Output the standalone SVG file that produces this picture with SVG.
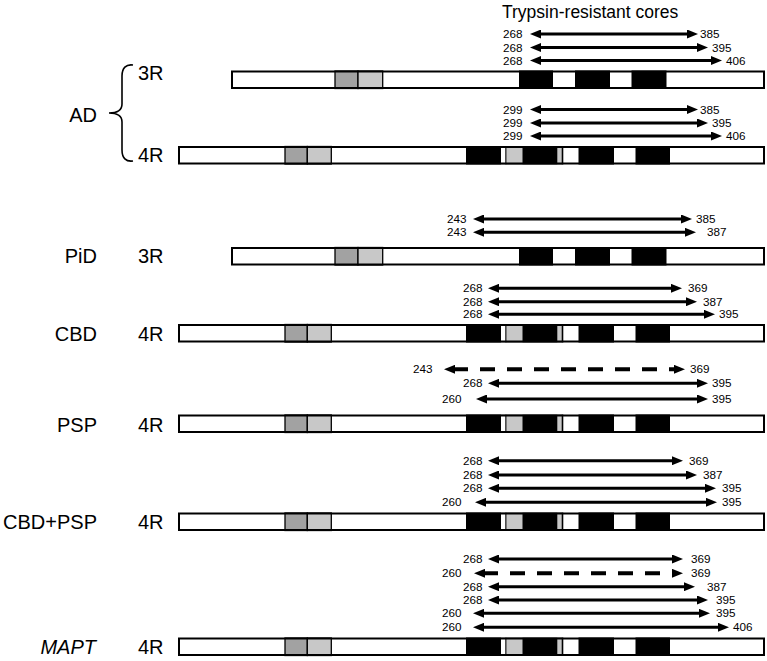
<svg xmlns="http://www.w3.org/2000/svg" width="767" height="661" viewBox="0 0 767 661">
<style>
text{font-family:"Liberation Sans",Arial,sans-serif;fill:#000}
.lab{font-size:20px}
.end{text-anchor:end}
.num{font-size:11.7px}
.ttl{font-size:17.5px}
.bar{fill:none;stroke:#000;stroke-width:2}
.bk{fill:#000}
.wt{fill:#fff}
.dg{fill:#a2a2a2;stroke:#000;stroke-width:1.3}
.lg{fill:#c8c8c8}
.lgs{fill:#c8c8c8;stroke:#000;stroke-width:1.3}
.arr{stroke:#000;stroke-width:2.9;fill:none;marker-start:url(#ah);marker-end:url(#ah)}
.dash{stroke-width:4;stroke-dasharray:15 12}
.brace{fill:none;stroke:#000;stroke-width:1.6}
</style>
<defs>
<marker id="ah" viewBox="0 0 11 9" refX="2" refY="4.5" markerWidth="11" markerHeight="9" markerUnits="userSpaceOnUse" orient="auto-start-reverse">
<path d="M0,0 L11,4.5 L0,9 z" fill="#000"/>
</marker>
<g id="b4">
<rect class="wt" x="179" y="1" width="585" height="16.5"/>
<rect class="dg" x="285" y="0.5" width="22.3" height="17.5"/>
<rect class="lgs" x="307.3" y="0.5" width="24" height="17.5"/>
<rect class="bk" x="466" y="0" width="97.3" height="18.5"/>
<rect class="wt" x="501" y="0" width="4.3" height="18.5"/>
<rect class="lg" x="506.4" y="0" width="16.1" height="18.5"/>
<rect class="lg" x="557.3" y="0" width="4.4" height="18.5"/>
<rect class="bk" x="578.5" y="0" width="35.5" height="18.5"/>
<rect class="bk" x="635.5" y="0" width="34.5" height="18.5"/>
<rect class="bar" x="179" y="1" width="585" height="16.5"/>
</g>
<g id="b3">
<rect class="wt" x="232" y="1" width="532" height="16.5"/>
<rect class="dg" x="335" y="0.5" width="23" height="17.5"/>
<rect class="lgs" x="358" y="0.5" width="24.7" height="17.5"/>
<rect class="bk" x="519" y="0" width="34" height="18.5"/>
<rect class="bk" x="575" y="0" width="35" height="18.5"/>
<rect class="bk" x="631.5" y="0" width="35" height="18.5"/>
<rect class="bar" x="232" y="1" width="532" height="16.5"/>
</g>
</defs>

<text class="ttl" x="502" y="18">Trypsin-resistant cores</text>

<g id="node-AD">
<text class="lab end" x="97" y="122">AD</text>
<path class="brace" d="M133,65 C126,64 122,68 122,76 L122,104 C122,110 118,113 109,113 C118,113 122,116 122,122 L122,150 C122,158 126,162 133,161"/>
<text class="lab" x="138" y="80">3R</text>
<use href="#b3" y="70.5"/>
<text class="lab" x="138" y="162">4R</text>
<use href="#b4" y="146"/>
</g>

<g id="node-PiD">
<text class="lab end" x="97" y="263">PiD</text>
<text class="lab" x="138" y="263">3R</text>
<use href="#b3" y="247"/>
</g>

<g id="node-CBD">
<text class="lab end" x="97" y="341">CBD</text>
<text class="lab" x="138" y="341">4R</text>
<use href="#b4" y="324"/>
</g>

<g id="node-PSP">
<text class="lab end" x="97" y="432">PSP</text>
<text class="lab" x="138" y="432">4R</text>
<use href="#b4" y="414.5"/>
</g>

<g id="node-CBDPSP">
<text class="lab end" x="97" y="529">CBD+PSP</text>
<text class="lab" x="138" y="529">4R</text>
<use href="#b4" y="512.5"/>
</g>

<g id="node-MAPT">
<text class="lab end" x="96" y="654" font-style="italic">MAPT</text>
<text class="lab" x="138" y="654">4R</text>
<use href="#b4" y="637.5"/>
</g>

<g id="connectors">
<line class="arr" x1="539" y1="34" x2="689" y2="34"/>
<line class="arr" x1="539" y1="47.5" x2="699" y2="47.5"/>
<line class="arr" x1="539" y1="60.5" x2="713" y2="60.5"/>
<line class="arr" x1="539" y1="109.5" x2="689" y2="109.5"/>
<line class="arr" x1="539" y1="123" x2="699" y2="123"/>
<line class="arr" x1="539" y1="136" x2="713" y2="136"/>

<line class="arr" x1="482" y1="219" x2="683" y2="219"/>
<line class="arr" x1="482" y1="232.3" x2="687" y2="232.3"/>

<line class="arr" x1="497" y1="288.3" x2="673" y2="288.3"/>
<line class="arr" x1="497" y1="301.7" x2="688" y2="301.7"/>
<line class="arr" x1="497" y1="314.3" x2="706" y2="314.3"/>

<line class="arr dash" x1="453" y1="369.3" x2="676" y2="369.3"/>
<line class="arr" x1="497" y1="383.3" x2="699" y2="383.3"/>
<line class="arr" x1="485" y1="399" x2="699" y2="399"/>

<line class="arr" x1="497" y1="460.7" x2="674" y2="460.7"/>
<line class="arr" x1="497" y1="475" x2="688" y2="475"/>
<line class="arr" x1="497" y1="488.3" x2="707" y2="488.3"/>
<line class="arr" x1="484" y1="502.3" x2="708" y2="502.3"/>

<line class="arr" x1="497" y1="559" x2="674" y2="559"/>
<line class="arr dash" x1="483" y1="573.3" x2="674" y2="573.3"/>
<line class="arr" x1="497" y1="586.7" x2="686" y2="586.7"/>
<line class="arr" x1="497" y1="600" x2="699" y2="600"/>
<line class="arr" x1="482" y1="613.3" x2="701" y2="613.3"/>
<line class="arr" x1="482" y1="627.3" x2="720" y2="627.3"/>
</g>

<g id="core-labels">
<text class="num" x="503" y="38.2">268</text><text class="num" x="700" y="38">385</text>
<text class="num" x="503" y="51.7">268</text><text class="num" x="712" y="51.5">395</text>
<text class="num" x="503" y="64.7">268</text><text class="num" x="726" y="64.5">406</text>
<text class="num" x="503" y="113.7">299</text><text class="num" x="700" y="113.5">385</text>
<text class="num" x="503" y="127.2">299</text><text class="num" x="712" y="127">395</text>
<text class="num" x="503" y="140.2">299</text><text class="num" x="726" y="140">406</text>

<text class="num" x="447" y="223">243</text><text class="num" x="696" y="223">385</text>
<text class="num" x="447" y="236.3">243</text><text class="num" x="707" y="236.3">387</text>

<text class="num" x="463" y="292.3">268</text><text class="num" x="688" y="292.3">369</text>
<text class="num" x="463" y="305.7">268</text><text class="num" x="703" y="305.7">387</text>
<text class="num" x="463" y="318.3">268</text><text class="num" x="719" y="318.3">395</text>

<text class="num" x="413" y="373.3">243</text><text class="num" x="690" y="373.3">369</text>
<text class="num" x="463" y="387.3">268</text><text class="num" x="712" y="387.3">395</text>
<text class="num" x="442" y="403">260</text><text class="num" x="712" y="403">395</text>

<text class="num" x="463" y="464.7">268</text><text class="num" x="689" y="464.7">369</text>
<text class="num" x="463" y="479">268</text><text class="num" x="703" y="479">387</text>
<text class="num" x="463" y="492.3">268</text><text class="num" x="722" y="492.3">395</text>
<text class="num" x="442" y="506.3">260</text><text class="num" x="722" y="506.3">395</text>

<text class="num" x="463" y="563">268</text><text class="num" x="691" y="563">369</text>
<text class="num" x="442" y="577.3">260</text><text class="num" x="691" y="577.3">369</text>
<text class="num" x="463" y="590.7">268</text><text class="num" x="707" y="590.7">387</text>
<text class="num" x="463" y="604">268</text><text class="num" x="716" y="604">395</text>
<text class="num" x="442" y="617.3">260</text><text class="num" x="716" y="617.3">395</text>
<text class="num" x="442" y="631.3">260</text><text class="num" x="733" y="631.3">406</text>
</g>
</svg>
